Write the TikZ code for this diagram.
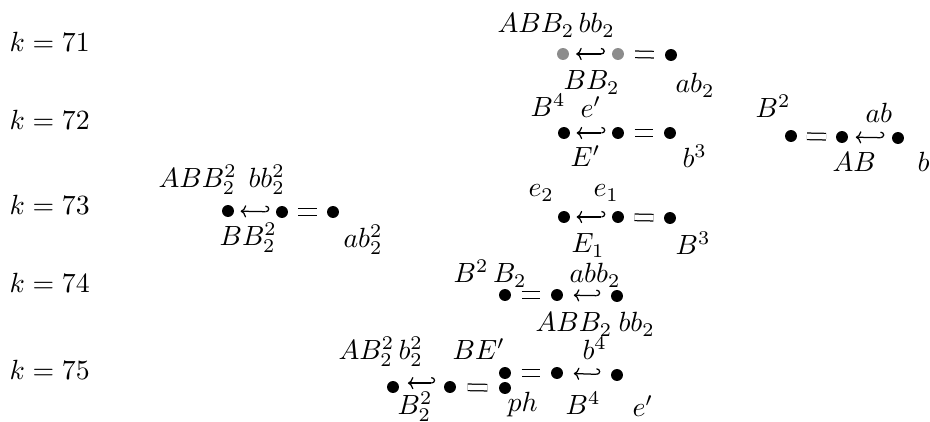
\documentclass[tikz,border=0pt]{standalone}
\usetikzlibrary{arrows.meta}
\begin{document}
\begin{tikzpicture}[x=0.36pt,y=-0.36pt,
  dot/.style={circle,fill=black,inner sep=0pt,minimum size=4.3pt},
  gdot/.style={dot,fill=black!45},
  lb/.style={inner sep=0pt,anchor=base west},
  eqc/.style={double,double distance=1.9pt,line width=0.45pt,shorten <=#1,shorten >=#1},
  eqc/.default=3.8pt,
  hk/.style={{To[length=2pt,width=4.4pt]}-{Hooks[left,length=1.4pt,width=4.4pt]},line width=0.45pt,shorten <=#1,shorten >=#1},
  hk/.default=2.4pt]
\useasboundingbox (0,0) rectangle (930,422);
% k labels
\node[lb] (k71) at (9,52) {$k=71$};
\node[lb] (k72) at (9,130) {$k=72$};
\node[lb] (k73) at (9,215) {$k=73$};
\node[lb] (k74) at (9,293) {$k=74$};
\node[lb] (k75) at (9,380) {$k=75$};
% row 71
\node[lb] (l71a) at (497,33) {$ABB_2$};
\node[lb] (l71b) at (578,33) {$bb_2$};
\node[gdot] (d71a) at (563,54) {};
\node[gdot] (d71b) at (618,54) {};
\node[dot] (d71c) at (671,55) {};
\node[lb] (l71c) at (563,90) {$BB_2$};
\node[lb] (l71d) at (675,93) {$ab_2$};
\draw[hk] (d71a) -- (d71b);
\draw[eqc] (d71b) -- (d71c);
% row 72
\node[lb] (l72a) at (530,117) {$B^4$};
\node[lb] (l72b) at (580,118) {$e'$};
\node[dot] (d72a) at (564,133) {};
\node[dot] (d72b) at (618,133) {};
\node[dot] (d72c) at (670,133) {};
\node[lb] (l72c) at (570,167) {$E'$};
\node[lb] (l72d) at (682,168) {$b^3$};
\draw[hk=2.2pt] (d72a) -- (d72b);
\draw[eqc=3.6pt] (d72b) -- (d72c);
% right group
\node[lb] (lra) at (755,118) {$B^2$};
\node[lb] (lrb) at (865,123) {$ab$};
\node[dot] (dra) at (791,136) {};
\node[dot] (drb) at (842,137) {};
\node[dot] (drc) at (898,138) {};
\node[lb] (lrc) at (832,172) {$AB$};
\node[lb] (lrd) at (917,172) {$b$};
\draw[eqc=3.4pt] (dra) -- (drb);
\draw[hk=2.6pt] (drb) -- (drc);
% row 73 left
\node[lb] (l73a) at (158,188) {$ABB_2^2$};
\node[lb] (l73b) at (248,188) {$bb_2^2$};
\node[dot] (d73a) at (228,211) {};
\node[dot] (d73b) at (282,212) {};
\node[dot] (d73c) at (333,212) {};
\node[lb] (l73c) at (219,246) {$BB_2^2$};
\node[lb] (l73d) at (343,248) {$ab_2^2$};
\draw[hk=2.2pt] (d73a) -- (d73b);
\draw[eqc=3.4pt] (d73b) -- (d73c);
% row 73 middle
\node[lb] (l73e) at (528,197) {$e_2$};
\node[lb] (l73f) at (593,197) {$e_1$};
\node[dot] (d73d) at (564,217) {};
\node[dot] (d73e) at (618,217) {};
\node[dot] (d73f) at (670,218) {};
\node[lb] (l73g) at (571,253) {$E_1$};
\node[lb] (l73h) at (675,255) {$B^3$};
\draw[hk=2.2pt] (d73d) -- (d73e);
\draw[eqc=3.6pt] (d73e) -- (d73f);
% row 74
\node[lb] (l74a) at (453,283) {$B^2\,B_2$};
\node[lb] (l74b) at (569,283) {$abb_2$};
\node[dot] (d74a) at (505,295) {};
\node[dot] (d74b) at (557,295) {};
\node[dot] (d74c) at (617,296) {};
\node[lb] (l74c) at (535,332) {$ABB_2$};
\node[lb] (l74d) at (618,332) {$bb_2$};
\draw[eqc=3.6pt] (d74a) -- (d74b);
\draw[hk=3.7pt] (d74b) -- (d74c);
% row 75
\node[lb] (l75a) at (338,360) {$AB_2^2$};
\node[lb] (l75b) at (398,360) {$b_2^2$};
\node[lb] (l75c) at (452,360) {$BE'$};
\node[lb] (l75d) at (582,360) {$b^4$};
\node[dot] (d75a) at (393,387) {};
\node[dot] (d75b) at (450,387) {};
\node[dot] (d75c) at (505,373) {};
\node[dot] (d75d) at (505,388) {};
\node[dot] (d75e) at (557,373) {};
\node[dot] (d75f) at (617,375) {};
\node[lb] (l75e) at (397,415) {$B_2^2$};
\node[lb] (l75f) at (507,412) {$ph$};
\node[lb] (l75g) at (565,415) {$B^4$};
\node[lb] (l75h) at (632,417) {$e'$};
\draw[hk=3pt,transform canvas={yshift=1.4pt}] (d75a) -- (d75b);
\draw[eqc=4pt] (d75b) -- (d75d);
\draw[eqc=3.6pt] (d75c) -- (d75e);
\draw[hk=3.7pt] (d75e) -- (d75f);
\end{tikzpicture}
\end{document}
